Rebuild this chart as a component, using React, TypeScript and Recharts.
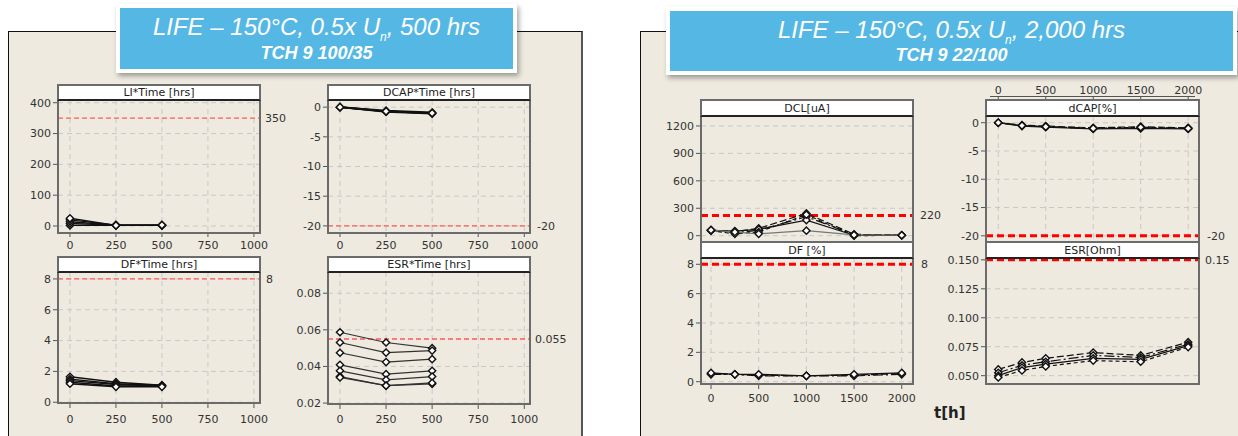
import React from 'react';
import { LineChart, Line, XAxis, YAxis, CartesianGrid, ReferenceLine } from 'recharts';

const FONT = '"DejaVu Sans", Tahoma, sans-serif';
const TITLE_FONT = '"Liberation Sans", Arial, sans-serif';

// ---------- left block: 500 hrs ----------
const leftTimes = [0, 250, 500];
const leftXTicks = [0, 250, 500, 750, 1000];
const liValues = [
  [2, 2, 2],
  [8, 3, 3],
  [14, 3, 3],
  [20, 3, 2],
  [25, 2, 3],
];
const dcapLeftValues = [
  [0, -0.6, -0.9],
  [0, -0.7, -1.0],
  [0, -0.8, -1.1],
  [0, -0.7, -1.0],
];
const dfLeftValues = [
  [1.65, 1.3, 1.1],
  [1.5, 1.2, 1.1],
  [1.4, 1.15, 1.05],
  [1.3, 1.05, 1.05],
  [1.2, 1.0, 1.0],
];
const esrLeftValues = [
  [0.0587, 0.0531, 0.05],
  [0.0531, 0.0476, 0.0487],
  [0.0475, 0.0424, 0.044],
  [0.0409, 0.0358, 0.0376],
  [0.0376, 0.0327, 0.0345],
  [0.0345, 0.0295, 0.0305],
  [0.034, 0.0295, 0.031],
];

// ---------- right block: 2,000 hrs ----------
const rightTimes = [0, 250, 500, 1000, 1500, 2000];
const rightXTicks = [0, 500, 1000, 1500, 2000];
const dclValues = [
  [62, 45, 80, 244, 15, 5],
  [60, 30, 60, 208, 10, 5],
  [58, 50, 70, 171, 5, 5],
  [55, 20, 40, 230, 0, 5],
  [62, 40, 20, 55, 8, 5],
];
const dcapRightValues = [
  [0, -0.4, -0.6, -0.9, -0.7, -0.9],
  [0, -0.5, -0.7, -1.0, -0.9, -1.0],
  [0, -0.6, -0.8, -1.1, -1.0, -1.1],
  [0, -0.5, -0.7, -1.0, -0.8, -1.0],
];
const dfRightValues = [
  [0.55, 0.5, 0.45, 0.4, 0.45, 0.55],
  [0.5, 0.5, 0.4, 0.4, 0.4, 0.5],
  [0.6, 0.5, 0.5, 0.4, 0.5, 0.6],
];
const esrRightValues = [
  [0.0554, 0.0614, 0.065, 0.0699, 0.0675, 0.0789],
  [0.0525, 0.059, 0.062, 0.0675, 0.0657, 0.0771],
  [0.05, 0.057, 0.06, 0.065, 0.064, 0.0759],
  [0.0485, 0.0545, 0.058, 0.063, 0.062, 0.0747],
];

type LineStyle = { stroke: string; dash?: string; width?: number };

const solidBlack: LineStyle[] = [{ stroke: '#111', width: 1.4 }];
const thickBlack: LineStyle[] = [{ stroke: '#111', width: 1.8 }];
const darkGray: LineStyle[] = [{ stroke: '#333', width: 1.2 }];
const mixedRight: LineStyle[] = [
  { stroke: '#111', dash: '7 3', width: 1.2 },
  { stroke: '#111', dash: '10 3 2 3', width: 1.2 },
  { stroke: '#111', width: 1.2 },
  { stroke: '#111', dash: '4 3', width: 1.2 },
  { stroke: '#777', width: 1.2 },
];

const makeDot = (color: string) => (props: any) => {
  const { cx, cy, index, dataKey } = props;
  const key = `${dataKey}-${index}`;
  if (cx == null || cy == null) return <g key={key} />;
  const r = 3.6;
  return (
    <path
      key={key}
      d={`M${cx},${cy - r}L${cx + r},${cy}L${cx},${cy + r}L${cx - r},${cy}Z`}
      fill="#fff"
      stroke={color}
      strokeWidth={1.4}
    />
  );
};

type PlotProps = {
  x: number;
  headerTop: number;
  plotTop: number;
  w: number;
  plotH: number;
  title: string;
  times: number[];
  series: number[][];
  styles: LineStyle[];
  xDomain: [number, number];
  xTicks: number[];
  yDomain: [number, number];
  yTicks: number[];
  yFmt?: (v: number) => string;
  refY: number;
  refLabel: string;
  thick?: boolean;
  xAxis: 'bottom' | 'top' | 'none';
  xTickSize?: number;
  xTickMargin?: number;
  labelOffset?: number;
};

function SubPlot(p: PlotProps) {
  const YW = 50;
  const RW = 50;
  const MT = 12;
  const MB = 4;
  const topH = p.xAxis === 'top' ? 36 : 0;
  const botH = p.xAxis === 'bottom' ? 28 : 0;
  const data = p.times.map((t, i) => {
    const r: any = { t };
    p.series.forEach((s, k) => {
      r['s' + k] = s[i];
    });
    return r;
  });
  const tickStyle = { fill: '#333', fontSize: 11, fontFamily: FONT };
  return (
    <>
      <div style={{ position: 'absolute', left: p.x - YW, top: p.plotTop - topH - MT }}>
        <LineChart
          width={YW + p.w + RW}
          height={MT + topH + p.plotH + botH + MB}
          data={data}
          margin={{ top: MT, right: RW, bottom: MB, left: 0 }}
        >
          <CartesianGrid stroke="#c8c8c8" strokeDasharray="5 4" />
          <XAxis
            dataKey="t"
            type="number"
            domain={p.xDomain}
            ticks={p.xTicks}
            allowDataOverflow
            interval={0}
            orientation={p.xAxis === 'top' ? 'top' : 'bottom'}
            height={p.xAxis === 'none' ? 0 : p.xAxis === 'top' ? topH : botH}
            tick={p.xAxis === 'none' ? false : tickStyle}
            tickLine={p.xAxis === 'none' ? false : { stroke: '#555' }}
            tickSize={p.xTickSize ?? 4}
            tickMargin={p.xTickMargin ?? 2}
            axisLine={false}
          />
          <YAxis
            type="number"
            domain={p.yDomain}
            ticks={p.yTicks}
            allowDataOverflow
            interval={0}
            width={YW}
            tick={tickStyle}
            tickLine={{ stroke: '#555' }}
            tickSize={5}
            tickMargin={2}
            axisLine={false}
            tickFormatter={p.yFmt}
          />
          <ReferenceLine
            y={p.refY}
            stroke={p.thick ? '#ff0000' : '#ff5a5a'}
            strokeWidth={p.thick ? 3 : 1.3}
            strokeDasharray={p.thick ? '7 4' : '5 3'}
            label={{
              value: p.refLabel,
              position: 'right',
              offset: p.labelOffset ?? 6,
              fill: '#333',
              fontSize: 11,
              fontFamily: FONT,
            }}
          />
          {p.series.map((_, k) => {
            const st = p.styles[k % p.styles.length];
            return (
              <Line
                key={k}
                dataKey={'s' + k}
                stroke={st.stroke}
                strokeWidth={st.width ?? 1.3}
                strokeDasharray={st.dash}
                dot={makeDot('#111')}
                activeDot={false}
                isAnimationActive={false}
              />
            );
          })}
        </LineChart>
      </div>
      <div
        style={{
          position: 'absolute',
          left: p.x - 1,
          top: p.headerTop - 1,
          width: p.w + 2,
          height: p.plotTop - p.headerTop + p.plotH + 2,
          boxSizing: 'border-box',
          border: '2px solid #6b6b6b',
          pointerEvents: 'none',
        }}
      />
      <div
        style={{
          position: 'absolute',
          left: p.x - 1,
          top: p.headerTop - 1,
          width: p.w + 2,
          height: p.plotTop - p.headerTop + 2,
          boxSizing: 'border-box',
          background: '#fff',
          border: '2px solid #6b6b6b',
          borderBottom: '2px solid #222',
          font: `11px ${FONT}`,
          color: '#222',
          display: 'flex',
          alignItems: 'center',
          justifyContent: 'center',
          whiteSpace: 'nowrap',
        }}
      >
        {p.title}
      </div>
    </>
  );
}

function TitleBox(props: { left: number; top: number; width: number; height: number; line1Top: number; line2Top: number; hours: string; sub: string }) {
  return (
    <>
      <div
        style={{
          position: 'absolute',
          left: props.left,
          top: props.top,
          width: props.width,
          height: props.height,
          boxSizing: 'border-box',
          background: '#55b8e4',
          border: '4px solid #fff',
          boxShadow: '2px 3px 5px rgba(0,0,0,0.35)',
        }}
      />
      <div
        style={{
          position: 'absolute',
          left: props.left,
          width: props.width,
          top: props.line1Top,
          textAlign: 'center',
          color: '#fff',
          fontFamily: TITLE_FONT,
          fontStyle: 'italic',
          fontSize: 24,
          lineHeight: '24px',
          whiteSpace: 'nowrap',
        }}
      >
        LIFE – 150°C, 0.5x U
        <span style={{ fontSize: 12, position: 'relative', top: 6 }}>n</span>, {props.hours}
      </div>
      <div
        style={{
          position: 'absolute',
          left: props.left,
          width: props.width,
          top: props.line2Top,
          textAlign: 'center',
          color: '#fff',
          fontFamily: TITLE_FONT,
          fontStyle: 'italic',
          fontWeight: 'bold',
          fontSize: 18,
          lineHeight: '18px',
          whiteSpace: 'nowrap',
        }}
      >
        {props.sub}
      </div>
    </>
  );
}

export default function App() {
  return (
    <div
      style={{
        position: 'absolute',
        left: 0,
        top: 0,
        width: 1238,
        height: 436,
        overflow: 'hidden',
        background: '#fff',
        fontFamily: FONT,
      }}
    >
      {/* beige panels */}
      <div
        style={{
          position: 'absolute',
          left: 8,
          top: 31,
          width: 575,
          height: 420,
          boxSizing: 'border-box',
          background: '#eeeae0',
          borderTop: '1.5px solid #111',
          borderLeft: '1.5px solid #111',
          borderRight: '2px solid #555',
        }}
      />
      <div
        style={{
          position: 'absolute',
          left: 640,
          top: 31,
          width: 620,
          height: 420,
          boxSizing: 'border-box',
          background: '#eeeae0',
          borderTop: '1.5px solid #111',
          borderLeft: '1.5px solid #111',
        }}
      />

      {/* left block */}
      <SubPlot
        x={58} headerTop={85} plotTop={100} w={202} plotH={133}
        title="LI*Time [hrs]" times={leftTimes} series={liValues} styles={solidBlack}
        xDomain={[-65, 1033]} xTicks={leftXTicks} yDomain={[-22.7, 408.8]} yTicks={[0, 100, 200, 300, 400]}
        refY={350} refLabel="350" xAxis="bottom" xTickSize={4} xTickMargin={4} labelOffset={5}
      />
      <SubPlot
        x={328} headerTop={85} plotTop={100} w={202} plotH={133}
        title="DCAP*Time [hrs]" times={leftTimes} series={dcapLeftValues} styles={thickBlack}
        xDomain={[-65, 1031]} xTicks={leftXTicks} yDomain={[-21.2, 1.2]} yTicks={[-20, -15, -10, -5, 0]}
        refY={-20} refLabel="-20" xAxis="bottom" xTickSize={4} xTickMargin={4} labelOffset={7}
      />
      <SubPlot
        x={58} headerTop={257} plotTop={272} w={202} plotH={131}
        title="DF*Time [hrs]" times={leftTimes} series={dfLeftValues} styles={solidBlack}
        xDomain={[-65, 1033]} xTicks={leftXTicks} yDomain={[-0.05, 8.45]} yTicks={[0, 2, 4, 6, 8]}
        refY={8} refLabel="8" xAxis="bottom" xTickSize={5} xTickMargin={7} labelOffset={6}
      />
      <SubPlot
        x={328} headerTop={257} plotTop={272} w={202} plotH={132}
        title="ESR*Time [hrs]" times={leftTimes} series={esrLeftValues} styles={darkGray}
        xDomain={[-65, 1031]} xTicks={leftXTicks} yDomain={[0.0195, 0.0916]} yTicks={[0.02, 0.04, 0.06, 0.08]}
        yFmt={(v: number) => v.toFixed(2)}
        refY={0.055} refLabel="0.055" xAxis="bottom" xTickSize={5} xTickMargin={6} labelOffset={5}
      />

      {/* right block */}
      <SubPlot
        x={701} headerTop={100} plotTop={116} w={212} plotH={126}
        title="DCL[uA]" times={rightTimes} series={dclValues} styles={mixedRight}
        xDomain={[-105, 2118]} xTicks={rightXTicks} yDomain={[-69, 1309]} yTicks={[0, 300, 600, 900, 1200]}
        refY={220} refLabel="220" thick xAxis="none" labelOffset={7}
      />
      <div style={{ position: 'absolute', left: 990, top: 96, width: 205, height: 1, background: '#555' }} />
      <SubPlot
        x={986} headerTop={100} plotTop={116} w={213} plotH={126}
        title="dCAP[%]" times={rightTimes} series={dcapRightValues} styles={mixedRight}
        xDomain={[-129, 2114]} xTicks={rightXTicks} yDomain={[-21.1, 1.19]} yTicks={[-20, -15, -10, -5, 0]}
        refY={-20} refLabel="-20" thick xAxis="top" xTickSize={19} xTickMargin={3} labelOffset={8}
      />
      <SubPlot
        x={701} headerTop={242} plotTop={258} w={212} plotH={126}
        title="DF [%]" times={rightTimes} series={dfRightValues} styles={mixedRight}
        xDomain={[-105, 2118]} xTicks={rightXTicks} yDomain={[-0.157, 8.43]} yTicks={[0, 2, 4, 6, 8]}
        refY={8} refLabel="8" thick xAxis="bottom" xTickSize={5} xTickMargin={5} labelOffset={8}
      />
      <SubPlot
        x={986} headerTop={242} plotTop={258} w={213} plotH={126}
        title="ESR[Ohm]" times={rightTimes} series={esrRightValues} styles={mixedRight}
        xDomain={[-129, 2114]} xTicks={rightXTicks} yDomain={[0.0428, 0.1516]} yTicks={[0.05, 0.075, 0.1, 0.125, 0.15]}
        yFmt={(v: number) => v.toFixed(3)}
        refY={0.15} refLabel="0.15" thick xAxis="none" labelOffset={6}
      />
      <div
        style={{
          position: 'absolute',
          left: 934,
          top: 405,
          font: `bold 15px ${FONT}`,
          color: '#222',
          lineHeight: '16px',
        }}
      >
        t[h]
      </div>

      {/* title boxes */}
      <TitleBox left={116} top={4} width={401} height={69} line1Top={15} line2Top={44} hours="500 hrs" sub="TCH 9 100/35" />
      <TitleBox left={666} top={7} width={571} height={68} line1Top={18} line2Top={46} hours="2,000 hrs" sub="TCH 9 22/100" />
    </div>
  );
}
